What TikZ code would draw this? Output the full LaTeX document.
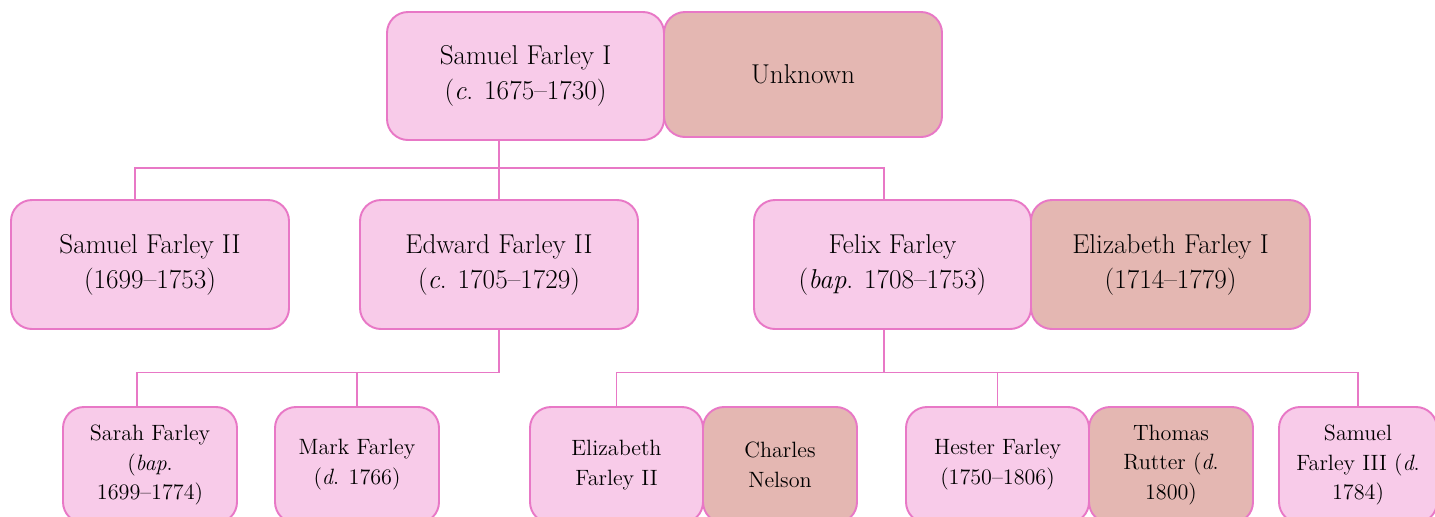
\documentclass[tikz,border=0pt]{standalone}
\usepackage{amsmath}
\usepackage{tikz}
\usepackage{xcolor}
\definecolor{boxpink}{HTML}{F8CBE9}
\definecolor{boxline}{HTML}{E878C6}
\definecolor{spousebrown}{HTML}{E4B7B2}
\tikzset{
    person-box/.style = {draw=boxline, fill=boxpink, line width=1.1pt, rectangle, rounded corners=0.42cm, align=center, inner sep=2pt, font=\fontsize{15.5}{19.9}\selectfont},
    spouse-box/.style = {person-box, fill=spousebrown},
    small-box/.style = {font=\fontsize{12.6}{17}\selectfont, minimum height=2.32cm},
    family-line/.style = {draw=boxline, line width=1.1pt},
}

\begin{document}
\begin{tikzpicture}
\useasboundingbox (0,0) rectangle (28.7,-10.32);
\clip (0,0) rectangle (28.7,-10.32);
% first generation
\node [person-box, minimum width=5.54cm, minimum height=2.56cm] (samuel1) at (10.51,-1.52) {Samuel Farley I\\(\textit{c}. 1675--1730)};
\node [spouse-box, minimum width=5.56cm, minimum height=2.5cm] (unknown) at (16.06,-1.49) {Unknown};
% second generation
\node [person-box, minimum width=5.56cm, minimum height=2.58cm] (samuel2) at (3.0,-5.29) {Samuel Farley II\\(1699--1753)};
\node [person-box, minimum width=5.56cm, minimum height=2.58cm] (edward) at (9.98,-5.29) {Edward Farley II\\(\textit{c}. 1705--1729)};
\node [person-box, minimum width=5.54cm, minimum height=2.58cm] (felix) at (17.85,-5.29) {Felix Farley\\(\textit{bap}. 1708--1753)};
\node [spouse-box, minimum width=5.58cm, minimum height=2.58cm] (elizabeth1) at (23.41,-5.29) {Elizabeth Farley I\\(1714--1779)};
% third generation
\node [person-box, small-box, minimum width=3.48cm] (sarah) at (3.0,-9.3) {Sarah Farley\\(\textit{bap}.\\1699--1774)};
\node [person-box, small-box, minimum width=3.28cm] (mark) at (7.14,-9.3) {Mark Farley\\(\textit{d}. 1766)};
\node [person-box, small-box, minimum width=3.46cm] (elizabeth2) at (12.33,-9.3) {Elizabeth\\Farley II};
\node [spouse-box, small-box, minimum width=3.08cm] (charles) at (15.6,-9.3) {Charles\\Nelson};
\node [person-box, small-box, minimum width=3.66cm] (hester) at (19.95,-9.3) {Hester Farley\\(1750--1806)};
\node [spouse-box, small-box, minimum width=3.28cm] (thomas) at (23.42,-9.3) {Thomas\\Rutter (\textit{d}.\\1800)};
\node [person-box, small-box, minimum width=3.16cm] (samuel3) at (27.16,-9.3) {Samuel\\Farley III (\textit{d}.\\1784)};

% lines
\coordinate (bar-one) at (0,-3.36);
\coordinate (bar-two) at (0,-7.45);
\coordinate (felix-drop) at ([xshift=-0.17cm]felix.north);
\draw [family-line] (edward.north) -- (edward.north |- samuel1.south);
\draw [family-line] ([xshift=-0.3cm]samuel2.north) |- (felix-drop |- bar-one) -- (felix-drop);
\draw [family-line] (edward.south) -- (edward.south |- bar-two) -| ([xshift=-0.26cm]sarah.north);
\draw [family-line] (mark.north) -- (mark.north |- bar-two);
\draw [family-line] (felix-drop |- felix.south) -- (felix-drop |- bar-two);
\draw [family-line] (elizabeth2.north) |- (samuel3.north |- bar-two) -- (samuel3.north);
\draw [family-line] (hester.north) -- (hester.north |- bar-two);
\end{tikzpicture}
\end{document}
